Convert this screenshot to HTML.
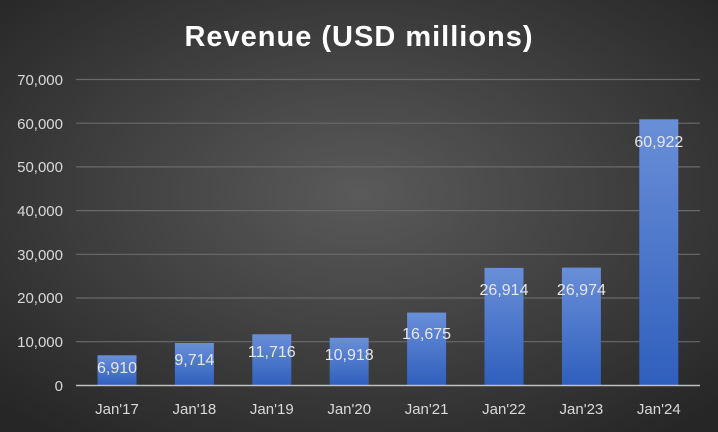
<!DOCTYPE html>
<html><head><style>
body{margin:0;background:#333}
svg{display:block}
text{font-family:"Liberation Sans",sans-serif}
</style></head><body>
<svg width="718" height="432" viewBox="0 0 718 432" xmlns="http://www.w3.org/2000/svg">
<defs>
<radialGradient id="bg" cx="50%" cy="45%" r="70%">
<stop offset="0" stop-color="#5a5a5a"/><stop offset="1" stop-color="#262626"/>
</radialGradient>
<linearGradient id="bar" x1="0" y1="0" x2="0" y2="1">
<stop offset="0" stop-color="#6a8fd8"/><stop offset="1" stop-color="#2f5fbd"/>
</linearGradient>
</defs>
<rect width="718" height="432" fill="url(#bg)"/>
<text x="359" y="46" text-anchor="middle" fill="#fff" font-size="29" font-weight="bold" letter-spacing="1">Revenue (USD millions)</text>
<g stroke="#6a6a6a" stroke-width="1.2">
<line x1="76" x2="700" y1="79.5" y2="79.5"/>
<line x1="76" x2="700" y1="123.2" y2="123.2"/>
<line x1="76" x2="700" y1="166.9" y2="166.9"/>
<line x1="76" x2="700" y1="210.6" y2="210.6"/>
<line x1="76" x2="700" y1="254.3" y2="254.3"/>
<line x1="76" x2="700" y1="298" y2="298"/>
<line x1="76" x2="700" y1="341.7" y2="341.7"/>
</g>
<g fill="#d9d9d9" font-size="15" text-anchor="end">
<text x="63" y="85">70,000</text><text x="63" y="129">60,000</text><text x="63" y="172">50,000</text><text x="63" y="216">40,000</text><text x="63" y="260">30,000</text><text x="63" y="303">20,000</text><text x="63" y="347">10,000</text><text x="63" y="391">0</text>
</g>
<g fill="url(#bar)">
<rect x="97.5" y="355.3" width="39" height="30.2"/>
<rect x="174.9" y="343" width="39" height="42.5"/>
<rect x="252.3" y="334.3" width="39" height="51.2"/>
<rect x="329.7" y="337.8" width="39" height="47.7"/>
<rect x="407.1" y="312.6" width="39" height="72.9"/>
<rect x="484.5" y="267.9" width="39" height="117.6"/>
<rect x="561.9" y="267.6" width="39" height="117.9"/>
<rect x="639.3" y="119.3" width="39" height="266.2"/>
</g>
<line x1="76" x2="700" y1="385.5" y2="385.5" stroke="#bfbfbf" stroke-width="1.5"/>
<g fill="#e6e6e6" font-size="16" text-anchor="middle">
<text x="117" y="373">6,910</text><text x="194.4" y="365">9,714</text><text x="271.8" y="357">11,716</text><text x="349.2" y="360">10,918</text><text x="426.6" y="339">16,675</text><text x="504" y="295">26,914</text><text x="581.4" y="295">26,974</text><text x="658.8" y="147">60,922</text>
</g>
<g fill="#d9d9d9" font-size="15" text-anchor="middle">
<text x="117" y="414">Jan'17</text><text x="194.4" y="414">Jan'18</text><text x="271.8" y="414">Jan'19</text><text x="349.2" y="414">Jan'20</text><text x="426.6" y="414">Jan'21</text><text x="504" y="414">Jan'22</text><text x="581.4" y="414">Jan'23</text><text x="658.8" y="414">Jan'24</text>
</g>
</svg>
</body></html>
